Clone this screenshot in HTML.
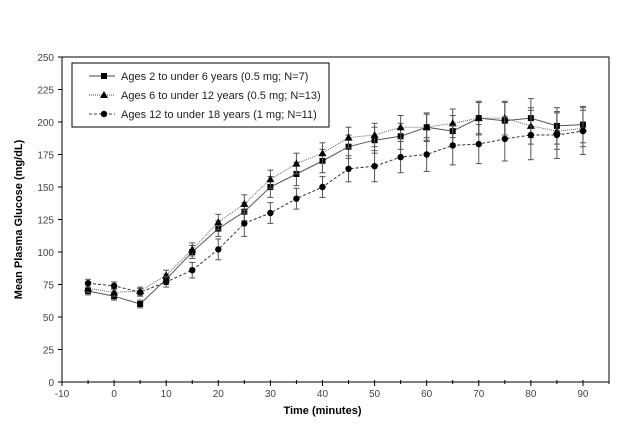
<!DOCTYPE html>
<html><head><meta charset="utf-8"><style>
body{margin:0;background:#fff;font-family:"Liberation Sans",sans-serif}
svg text{font-family:"Liberation Sans",sans-serif}
</style></head><body>
<svg id="c" width="624" height="422"></svg>
<script>
const times=[-5,0,5,10,15,20,25,30,35,40,45,50,55,60,65,70,75,80,85,90];
const sq=[70,66,60,79,100,118,131,150,160,170,181,186,189,196,193,203,201,203,197,198];
const sqErr=[3,3,3,4,5,6,7,8,9,9,9,10,10,11,12,13,14,15,14,14];
const tri=[72,69,70,82,102,123,137,156,168,176,188,190,196,196,199,203,203,197,193,195];
const triErr=[3,3,3,4,5,6,7,7,8,8,8,9,9,10,11,12,13,14,14,14];
const cir=[76,74,69,77,86,102,122,130,141,150,164,166,173,175,182,183,187,190,190,193];
const cirErr=[3,3,3,4,6,8,10,8,8,8,10,12,12,13,15,15,17,19,18,18];
const xTicks=[-10,0,10,20,30,40,50,60,70,80,90];
const xMinor=[-5,5,15,25,35,45,55,65,75,85,95];
const yTicks=[0,25,50,75,100,125,150,175,200,225,250];
const L=62,R=609,T=57,B=382,XMIN=-10,XMAX=95;
const X=v=>L+(v-XMIN)/(XMAX-XMIN)*(R-L), Y=v=>B-v/250*(B-T);
const s=document.getElementById('c'),NS='http://www.w3.org/2000/svg';
function el(t,a,p){const e=document.createElementNS(NS,t);for(const k in a)e.setAttribute(k,a[k]);(p||s).appendChild(e);return e;}
const frame=el('rect',{x:L,y:T,width:R-L,height:B-T,fill:'none',stroke:'#000','stroke-width':1});


yTicks.forEach(v=>{el('line',{x1:L-4,x2:L,y1:Y(v),y2:Y(v),stroke:'#000'});
const t=el('text',{x:L-8,y:Y(v)+4,'text-anchor':'end','font-size':10,fill:'#444'});t.textContent=v;

});
xMinor.forEach(v=>{el('line',{x1:X(v),x2:X(v),y1:B-2,y2:B+2,stroke:'#000'});});
xTicks.forEach(v=>{el('line',{x1:X(v),x2:X(v),y1:B-2,y2:B+4,stroke:'#000'});
const t=el('text',{x:X(v),y:B+15,'text-anchor':'middle','font-size':10,fill:'#444'});t.textContent=v;

});
const xt=el('text',{x:(X(-10)+X(90))/2,y:414,'text-anchor':'middle','font-size':11,'font-weight':'bold'});xt.textContent='Time (minutes)';


const yt=el('text',{x:0,y:0,'text-anchor':'middle','font-size':11,'font-weight':'bold',transform:`translate(22,${(T+B)/2}) rotate(-90)`});yt.textContent='Mean Plasma Glucose (mg/dL)';


function marker(g,type,x,y){
 if(type==='sq')el('rect',{x:x-3,y:y-3,width:6,height:6,fill:'#000'},g);
 else if(type==='tri')el('polygon',{points:`${x},${y-4} ${x-4},${y+3} ${x+4},${y+3}`,fill:'#000'},g);
 else el('circle',{cx:x,cy:y,r:3.2,fill:'#000'},g);}
function series(vals,errs,type,dash,color,name){
 const g=el('g',{});
 
 
 times.forEach((t,i)=>{const x=X(t),y1=Y(vals[i]-errs[i]),y2=Y(vals[i]+errs[i]);
  el('line',{x1:x,x2:x,y1:y1,y2:y2,stroke:'#555'},g);
  el('line',{x1:x-3,x2:x+3,y1:y1,y2:y1,stroke:'#555'},g);
  el('line',{x1:x-3,x2:x+3,y1:y2,y2:y2,stroke:'#555'},g);});
 el('polyline',{points:times.map((t,i)=>X(t)+','+Y(vals[i])).join(' '),fill:'none',stroke:color,'stroke-width':1,'stroke-dasharray':dash},g);
 times.forEach((t,i)=>marker(g,type,X(t),Y(vals[i])));}
series(sq,sqErr,'sq','none','#555','series-ages-2-6');
series(tri,triErr,'tri','1,1','#666','series-ages-6-12');
series(cir,cirErr,'cir','3,2','#333','series-ages-12-18');
const lg=el('g',{});


el('rect',{x:72,y:63,width:257,height:64,fill:'#fff',stroke:'#000'},lg);
const labs=['Ages 2 to under 6 years (0.5 mg; N=7)','Ages 6 to under 12 years (0.5 mg; N=13)','Ages 12 to under 18 years (1 mg; N=11)'];
const types=['sq','tri','cir'],dashes=['none','1,1','3,2'];
labs.forEach((l,i)=>{const y=76+i*19;
 el('line',{x1:89,x2:115,y1:y,y2:y,stroke:'#444','stroke-dasharray':dashes[i]},lg);
 marker(lg,types[i],104,y);
 const t=el('text',{x:121,y:y+4,'font-size':11,fill:'#222'},lg);t.textContent=l;
 
 });
</script></body></html>
